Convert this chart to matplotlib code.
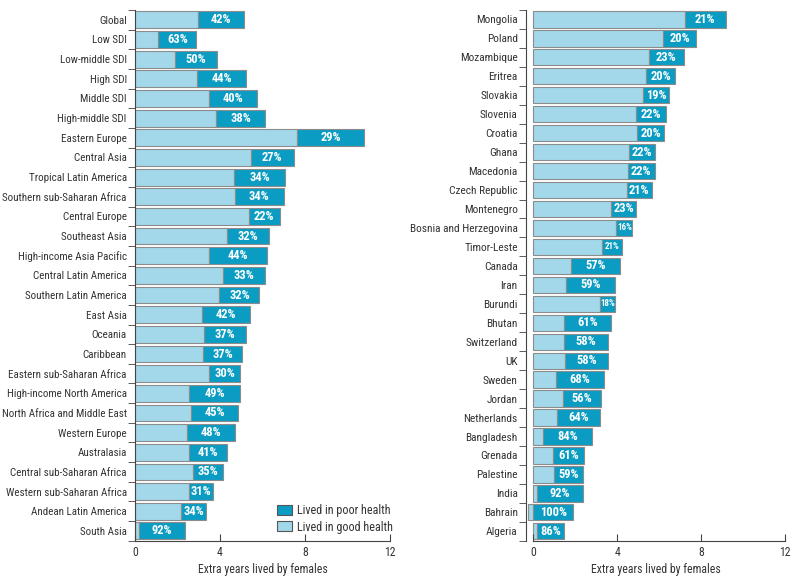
import matplotlib
matplotlib.use("Agg")
import matplotlib.pyplot as plt
import matplotlib.font_manager as fm
from matplotlib.patches import Patch
import numpy as np

# pick a narrow face if the machine has one
names = {f.name for f in fm.fontManager.ttflist}
family = "Roboto"
for fam in ["Liberation Sans Narrow", "Roboto Condensed", "Open Sans Condensed", "DejaVu Sans Condensed"]:
    if fam in names:
        family = fam
        break
plt.rcParams['font.family'] = [family, 'DejaVu Sans']
plt.rcParams['font.stretch'] = 'condensed'

# left panel: GBD regions / SDI groups
regions = ["Global", "Low SDI", "Low-middle SDI", "High SDI", "Middle SDI", "High-middle SDI",
           "Eastern Europe", "Central Asia", "Tropical Latin America", "Southern sub-Saharan Africa",
           "Central Europe", "Southeast Asia", "High-income Asia Pacific", "Central Latin America",
           "Southern Latin America", "East Asia", "Oceania", "Caribbean", "Eastern sub-Saharan Africa",
           "High-income North America", "North Africa and Middle East", "Western Europe", "Australasia",
           "Central sub-Saharan Africa", "Western sub-Saharan Africa", "Andean Latin America", "South Asia"]
good_r = [2.96, 1.09, 1.89, 2.93, 3.46, 3.81, 7.65, 5.46, 4.66, 4.69, 5.35, 4.31, 3.46, 4.12,
          3.97, 3.13, 3.26, 3.18, 3.50, 2.54, 2.65, 2.46, 2.54, 2.71, 2.54, 2.17, 0.19]
total_r = [5.13, 2.88, 3.84, 5.24, 5.75, 6.13, 10.77, 7.48, 7.06, 7.02, 6.82, 6.31, 6.20, 6.13,
           5.86, 5.42, 5.21, 5.05, 4.93, 4.94, 4.87, 4.71, 4.33, 4.14, 3.65, 3.34, 2.33]
pct_r = [42, 63, 50, 44, 40, 38, 29, 27, 34, 34, 22, 32, 44, 33, 32, 42, 37, 37, 30, 49, 45,
         48, 41, 35, 31, 34, 92]

# right panel: countries
countries = ["Mongolia", "Poland", "Mozambique", "Eritrea", "Slovakia", "Slovenia", "Croatia",
             "Ghana", "Macedonia", "Czech Republic", "Montenegro", "Bosnia and Herzegovina",
             "Timor-Leste", "Canada", "Iran", "Burundi", "Bhutan", "Switzerland", "UK", "Sweden",
             "Jordan", "Netherlands", "Bangladesh", "Grenada", "Palestine", "India", "Bahrain", "Algeria"]
good_c = [7.22, 6.19, 5.51, 5.38, 5.24, 4.90, 4.95, 4.54, 4.50, 4.46, 3.71, 3.95, 3.29, 1.80,
          1.57, 3.18, 1.45, 1.48, 1.51, 1.08, 1.41, 1.13, 0.45, 0.94, 0.98, 0.18, -0.24, 0.19]
total_c = [9.16, 7.76, 7.16, 6.73, 6.48, 6.30, 6.21, 5.79, 5.79, 5.64, 4.88, 4.71, 4.21, 4.13,
           3.89, 3.89, 3.70, 3.54, 3.54, 3.38, 3.22, 3.18, 2.81, 2.43, 2.37, 2.37, 1.88, 1.45]
pct_c = [21, 20, 23, 20, 19, 22, 20, 22, 22, 21, 23, 16, 21, 57, 59, 18, 61, 58, 58, 68, 56,
         64, 84, 61, 59, 92, 100, 86]
small_c = ["Bosnia and Herzegovina", "Timor-Leste", "Burundi"]

DARK = "#0b9cc3"
LIGHT = "#a2d8ea"
EDGE = "#8c8c8c"
TXT = "#333333"
FS = 8.2


def panel(ax, names, good, total, pct, small=(), xmin=0):
    n = len(names)
    y = np.arange(n)
    good = np.array(good)
    total = np.array(total)
    left = np.maximum(good, 0)
    ax.barh(y, good, height=0.86, color=LIGHT, edgecolor=EDGE, linewidth=0.8)
    ax.barh(y, total - left, left=left, height=0.86, color=DARK, edgecolor=EDGE, linewidth=0.8)
    for i in range(n):
        fs = 6.5 if names[i] in small else 9
        ax.text((left[i] + total[i]) / 2, y[i], f"{pct[i]}%", color="white", fontsize=fs,
                fontweight="bold", ha="center", va="center")
    ax.set_ylim(n - 0.5, -0.5)
    ax.set_xlim(xmin, 12)
    ax.set_yticks(y)
    ax.set_yticklabels(names, fontsize=FS, color=TXT)
    ax.set_yticks(np.arange(-0.5, n, 1), minor=True)
    ax.tick_params(axis="y", which="major", length=0, pad=6)
    ax.tick_params(axis="y", which="minor", length=5, direction="out", color="#444444")
    ax.set_xticks([0, 4, 8, 12])
    ax.tick_params(axis="x", direction="in", length=5, labelsize=8.5, labelcolor=TXT, color="#444444")
    ax.set_xlabel("Extra years lived by females", fontsize=8.5, color=TXT, labelpad=3)
    for s in ["top", "right"]:
        ax.spines[s].set_visible(False)
    for s in ["left", "bottom"]:
        ax.spines[s].set_color("#444444")
    ax.spines["bottom"].set_bounds(0, 12)


fig = plt.figure(figsize=(8, 5.84), dpi=100)
ax1 = fig.add_axes([0.169, 0.074, 0.318, 0.909])
ax2 = fig.add_axes([0.6575, 0.074, 0.3241, 0.909])

panel(ax1, regions, good_r, total_r, pct_r)
panel(ax2, countries, good_c, total_c, pct_c, small=small_c, xmin=-0.35)

# shrink the left labels if the face is too wide for the margin
fig.canvas.draw()
r = fig.canvas.get_renderer()
widest = max(t.get_window_extent(r).width for t in ax1.get_yticklabels())
if widest > 125:
    for t in ax1.get_yticklabels():
        t.set_fontsize(FS * 125 / widest)

handles = [Patch(facecolor=DARK, edgecolor="#555555", linewidth=0.8),
           Patch(facecolor=LIGHT, edgecolor="#555555", linewidth=0.8)]
fig.legend(handles, ["Lived in poor health", "Lived in good health"], loc="lower right",
           bbox_to_anchor=(0.4975, 0.078), frameon=False, fontsize=8.7, handlelength=1.3,
           handleheight=0.9, handletextpad=0.4, labelspacing=0.3, borderaxespad=0,
           labelcolor=TXT)

fig.savefig("out.png", dpi=100)
